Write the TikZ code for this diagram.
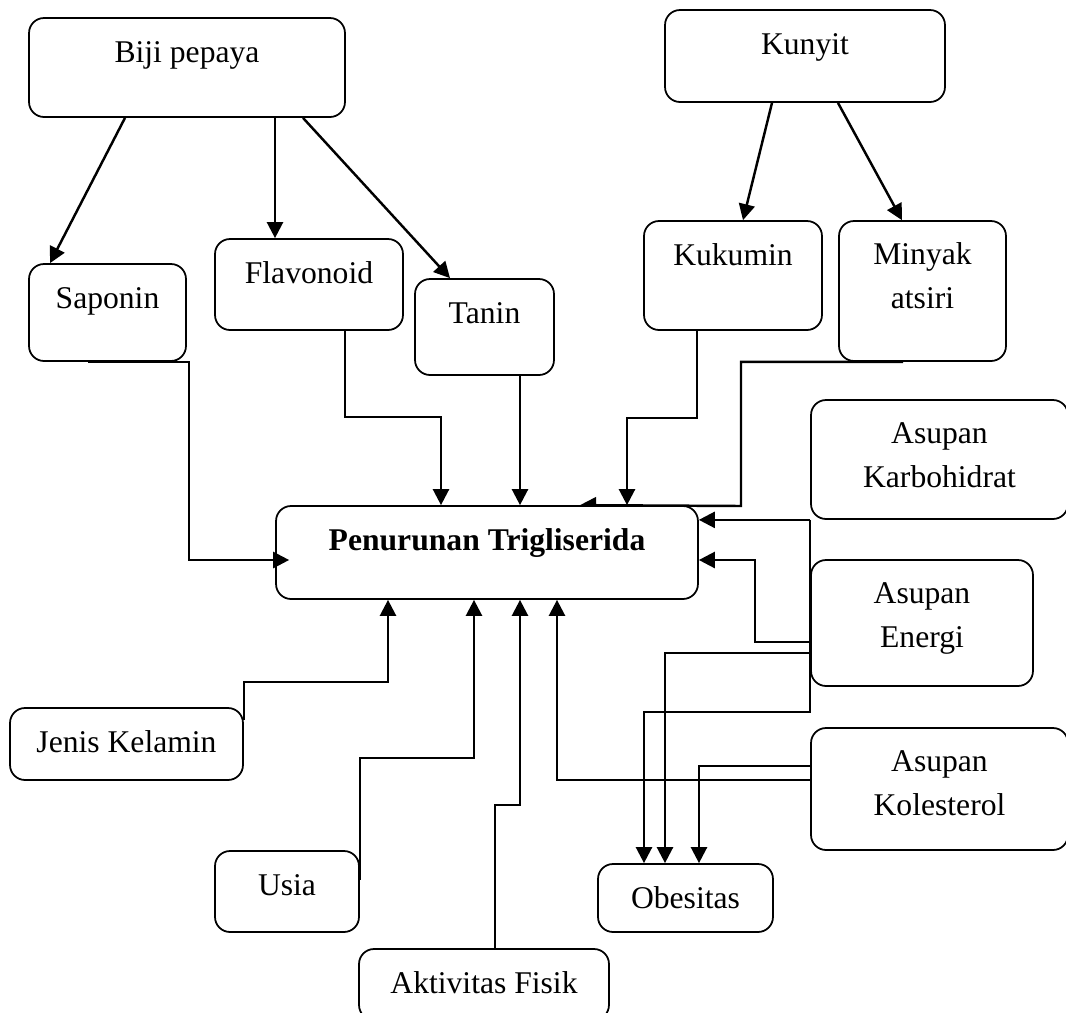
\documentclass[tikz,border=0pt]{standalone}
\usepackage{fontspec}
\setmainfont{Liberation Serif}
\usetikzlibrary{arrows.meta}
\usetikzlibrary{calc,backgrounds}

\begin{document}
\begin{tikzpicture}[x=0.02cm, y=-0.02cm,
    font=\fontsize{18}{24.5}\selectfont,
    box/.style={draw, line width=1pt, rounded corners=0.3cm, fill=white,
      inner sep=0pt, anchor=base, align=center, text height=0.88cm},
    twoline/.style={text height=1.74cm},
    link/.style={line width=1.4pt, -{Triangle[length=0.32cm, width=0.32cm]}}]
  \useasboundingbox (0,0) rectangle (1066,1012);

  % bahan
  \node[box, minimum width=6.32cm, text depth=1.10cm] (biji) at (187,62) {Biji pepaya};
  \node[box, minimum width=5.60cm, text depth=0.96cm] (kunyit) at (805,54) {Kunyit};

  % kandungan
  \node[box, minimum width=3.14cm, text depth=1.06cm] (saponin) at (107.5,308) {Saponin};
  \node[box, minimum width=3.76cm, text depth=0.94cm] (flavonoid) at (309,283) {Flavonoid};
  \node[box, minimum width=2.78cm, text depth=1.04cm] (tanin) at (484.5,323) {Tanin};
  \node[box, minimum width=3.56cm, text depth=1.30cm] (kukumin) at (733,265) {Kukumin};
  \node[box, twoline, minimum width=3.34cm, text depth=1.06cm] (minyak) at (922.5,308) {Minyak\\atsiri};

  % hasil
  \node[box, minimum width=8.44cm, text depth=0.98cm] (penurunan) at (487,550) {\textbf{Penurunan Trigliserida}};

  % faktor lain
  \node[box, twoline, minimum width=5.14cm, text depth=0.64cm] (karbo) at (939.5,487) {Asupan\\Karbohidrat};
  \node[box, twoline, minimum width=4.44cm, text depth=0.78cm] (energi) at (922,647) {Asupan\\Energi};
  \node[box, twoline, minimum width=5.14cm, text depth=0.70cm] (kolesterol) at (939.5,815) {Asupan\\Kolesterol};
  \node[box, minimum width=3.50cm, text depth=0.48cm] (obesitas) at (685.5,908) {Obesitas};
  \node[box, minimum width=4.66cm, text depth=0.56cm] (jenis) at (126.5,752) {Jenis Kelamin};
  \node[box, minimum width=2.88cm, text depth=0.74cm] (usia) at (287,895) {Usia};
  \node[box, minimum width=5.00cm, text depth=0.54cm] (aktivitas) at (484,993) {Aktivitas Fisik};

  % panah dari bahan
  \draw[link] (biji.south -| 125,0) -- (saponin.north -| 50,0);
  \draw[link] (biji.south -| 275,0) -- (flavonoid.north -| 275,0);
  \draw[link] (biji.south -| 303,0) -- (tanin.north -| 450,0);
  \draw[link] (kunyit.south -| 772,0) -- (kukumin.north -| 743,0);
  \draw[link] (kunyit.south -| 838,0) -- (minyak.north -| 902,0);

  % panah ke penurunan
  \draw[link] (saponin.south -| 88,0) -- (saponin.south -| 189,0)
    |- ($(penurunan.west |- 0,560)+(14,0)$);
  \draw[link] (flavonoid.south -| 345,0) |- (441,417) -- (penurunan.north -| 441,0);
  \draw[link] (tanin.south -| 520,0) -- (penurunan.north -| 520,0);
  \draw[link] (kukumin.south -| 697,0) |- (627,418) -- (penurunan.north -| 627,0);
  \begin{scope}[on background layer]
    \draw[link] (minyak.south -| 903,0) -| (741,506) -- (penurunan.north -| 580,0);
  \end{scope}
  \draw[link] (karbo.south west) -- (penurunan.east |- karbo.south west);
  \draw[link] (energi.west |- 0,642) -| (755,560) -- (penurunan.east |- 0,560);
  \draw[link] (kolesterol.west |- 0,780) -| (penurunan.south -| 557,0);
  \draw[link] (jenis.east |- 0,720) |- (388,682) -- (penurunan.south -| 388,0);
  \draw[link] (usia.east |- 0,880) |- (474,758) -- (penurunan.south -| 474,0);
  \draw[link] (aktivitas.north -| 495,0) |- (520,805) -- (penurunan.south -| 520,0);

  % panah ke obesitas
  \draw[link] (karbo.south west) |- (644,712) -- (obesitas.north -| 644,0);
  \draw[link] (energi.west |- 0,653) -| (obesitas.north -| 665,0);
  \draw[link] (kolesterol.west |- 0,766) -| (obesitas.north -| 699,0);
\end{tikzpicture}
\end{document}
